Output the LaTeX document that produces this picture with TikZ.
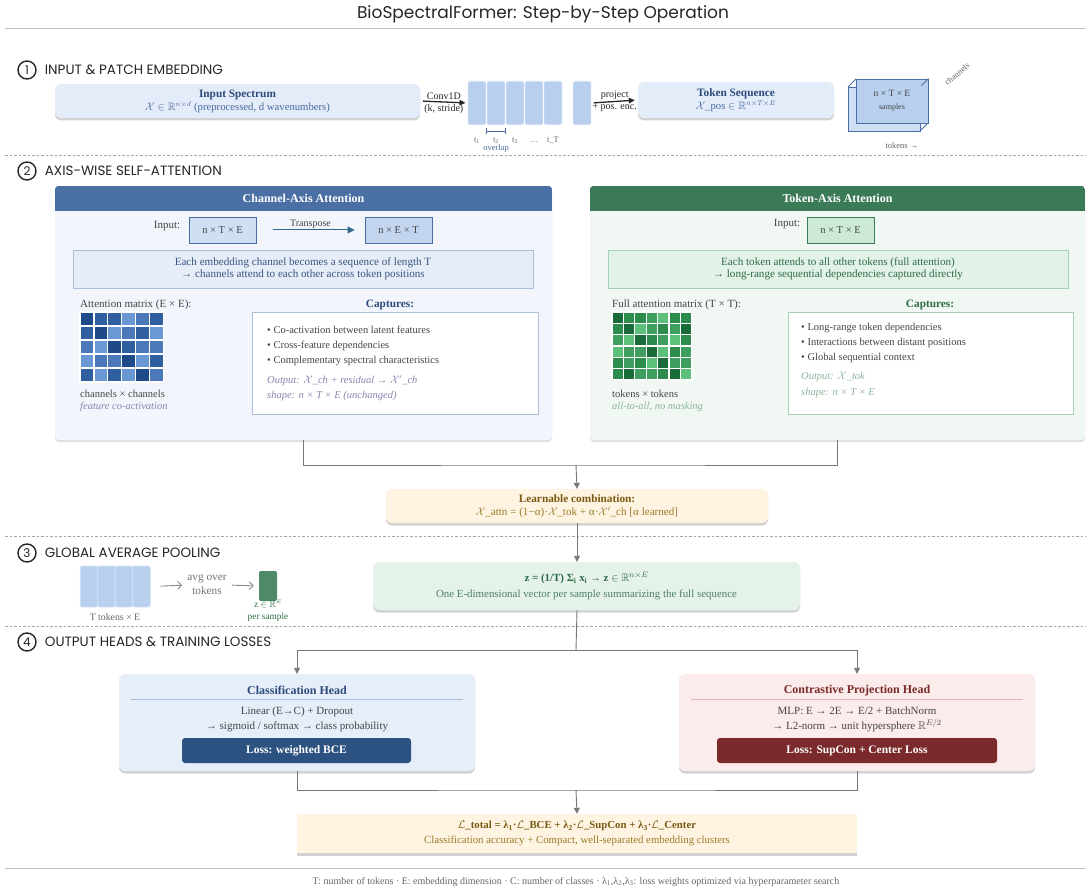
\documentclass[tikz,border=0pt]{standalone}
\usepackage{fontspec}
\usepackage{amssymb}
\setmainfont{Liberation Serif}
\newfontfamily\titrefont{Poppins}
\usetikzlibrary{positioning,shadows,arrows.meta}

\definecolor{gristexte}{HTML}{444444}
\definecolor{grislien}{HTML}{777777}
\definecolor{bleuTete}{HTML}{4A6FA5}
\definecolor{bleuFond}{HTML}{F2F6FC}
\definecolor{bleuPale}{HTML}{E3ECF8}
\definecolor{bleuTok}{HTML}{B8D0EE}
\definecolor{bleuTexte}{HTML}{2C4A7A}
\definecolor{bleuMoyen}{HTML}{4A6AA0}
\definecolor{bleuBord}{HTML}{A9BFDC}
\definecolor{bleuInfo}{HTML}{E6EDF8}
\definecolor{bleuTens}{HTML}{CFE0F5}
\definecolor{bleuTens2}{HTML}{C3D5EE}
\definecolor{bleuItal}{HTML}{8585B0}
\definecolor{vertTete}{HTML}{3B7A57}
\definecolor{vertFond}{HTML}{F1F8F3}
\definecolor{vertTens}{HTML}{CDE9D7}
\definecolor{vertInfo}{HTML}{E3F2E8}
\definecolor{vertBord}{HTML}{A3D3B3}
\definecolor{vertTexte}{HTML}{2E6B45}
\definecolor{vertItal}{HTML}{8CB598}
\definecolor{vertZ}{HTML}{E4F2EA}
\definecolor{vertVec}{HTML}{4E8A65}
\definecolor{creme}{HTML}{FEF4E1}
\definecolor{brun}{HTML}{7A5A12}
\definecolor{brunClair}{HTML}{9A7A2A}
\definecolor{clsFond}{HTML}{E6EEF9}
\definecolor{clsPerte}{HTML}{2C5282}
\definecolor{conFond}{HTML}{FBEBEA}
\definecolor{conTexte}{HTML}{7A2A2A}
\definecolor{conBord}{HTML}{E0B8B8}
\definecolor{chA}{HTML}{1F4A8A}
\definecolor{chB}{HTML}{2F5F9E}
\definecolor{chC}{HTML}{4A78B8}
\definecolor{chD}{HTML}{6A98D4}
\definecolor{tkA}{HTML}{1A6B3A}
\definecolor{tkB}{HTML}{2E8B4E}
\definecolor{tkC}{HTML}{3F9E5F}
\definecolor{tkD}{HTML}{5CBF7A}

\tikzset{
  numero/.style={circle, draw=black!85, line width=1.4pt, minimum size=18pt, inner sep=0pt,
    font=\titrefont\fontsize{12}{12}\selectfont, text=black!85},
  etape/.style={inner sep=0pt, font=\titrefont\fontsize{13.5}{15}\selectfont, text=black!85},
  filet/.style={black!25, line width=0.8pt},
  pointille/.style={black!35, dash pattern=on 2.5pt off 2pt, line width=0.6pt},
  boite/.style={rounded corners=6pt, inner sep=0pt, align=center,
    drop shadow={shadow xshift=0pt, shadow yshift=-2.5pt, opacity=0.35}},
  panneau/.style={rounded corners=4pt, inner sep=0pt,
    drop shadow={shadow xshift=0pt, shadow yshift=-2pt, opacity=0.25}},
  entete/.style={text=white, font=\bfseries\fontsize{12}{14}\selectfont, inner sep=0pt},
  patch/.style={minimum width=18.5pt, minimum height=44pt, fill=bleuTok, draw=white,
    line width=0.6pt, rounded corners=2pt, inner sep=0pt},
  tenseur/.style={minimum width=67pt, minimum height=26pt, inner sep=0pt, line width=0.9pt,
    font=\fontsize{10.5}{12}\selectfont},
  info/.style={inner sep=0pt, align=center, line width=0.8pt},
  capt/.style={fill=white, inner sep=0pt, line width=0.8pt},
  puce/.style={anchor=west, inner sep=0pt, font=\fontsize{10.5}{12}\selectfont, text=gristexte},
  lbl/.style={font=\fontsize{10}{11}\selectfont, text=black!85, inner sep=1.5pt},
  minuscule/.style={font=\fontsize{8.5}{10}\selectfont, text=black!60, inner sep=0pt},
  perte/.style={rounded corners=3pt, inner sep=0pt, text=white, font=\bfseries\fontsize{11.5}{13}\selectfont},
  flecheNoire/.style={-{Triangle[length=6pt,width=5.5pt]}, line width=1.3pt, black!85},
  lien/.style={grislien, line width=0.9pt},
  flecheGrise/.style={lien, -{Triangle[length=6pt,width=6pt]}},
}

\begin{document}
\begin{tikzpicture}[x=1pt, y=-1pt, font=\fontsize{11}{13}\selectfont, text=gristexte]
\useasboundingbox[fill=white] (0,0) rectangle (1086,890);

% titre
\node[font=\titrefont\fontsize{17}{20}\selectfont, text=black!85] (titre) at (543,14)
  {BioSpectralFormer: Step-by-Step Operation};
\draw[filet] (5,28) -- (1086,28);

% etape 1 : spectre et tokens
\node[numero] (num1) at (27,70) {1};
\node[etape, right=8pt of num1] (etape1) {INPUT \& PATCH EMBEDDING};

\node[boite, fill=bleuPale, minimum width=365pt, minimum height=34pt,
  font=\fontsize{10.7}{13}\selectfont, text=bleuMoyen] (inSpec) at (237.5,101)
  {{\bfseries\fontsize{11.3}{13}\selectfont\color{bleuTexte}Input Spectrum}\\
   $\mathcal{X}\in\mathbb{R}^{n\times d}$ (preprocessed, d wavenumbers)};

\foreach \i/\x in {1/477,2/496,3/515,4/534,5/553}
  \node[patch] (p\i) at (\x,103) {};
\node[patch] (pT) at (582,103) {};

\draw[flecheNoire, shorten <=3pt, shorten >=2pt] (inSpec.east) --
  node[above, lbl] {Conv1D} node[below, lbl] {(k, stride)} (p1.west);

\draw[bleuMoyen, line width=1pt, {Bar[width=6pt]}-{Bar[width=6pt]}]
  ([yshift=-6pt]p2.south west) -- ([yshift=-6pt]p2.south east);
\foreach \i/\t in {1/t\textsubscript{1},2/t\textsubscript{2},3/t\textsubscript{3},4/\dots,5/t\_T}
  \path (p\i.south) ++(0,17) node[minuscule, anchor=base] (lbl\i) {\t};
\path (p2.south) ++(0,25) node[minuscule, anchor=base, text=bleuMoyen] (chevau) {overlap};

\node[boite, fill=bleuPale, minimum width=196pt, minimum height=36pt,
  font=\fontsize{10.7}{13}\selectfont, text=bleuMoyen] (tokSeq) at (736,100)
  {{\bfseries\fontsize{11.3}{13}\selectfont\color{bleuTexte}Token Sequence}\\
   $\mathcal{X}$\_pos $\in\mathbb{R}^{n\times T\times E}$};

\draw[flecheNoire, shorten <=2pt, shorten >=3pt] (pT.east) --
  node[above, lbl] {project} node[below, lbl] {+ pos. enc.} (tokSeq.west);

% cube n x T x E
\filldraw[fill=bleuTens, draw=bleuTete, line width=0.9pt] (848,87) rectangle (920,131);
\draw[bleuTete, line width=0.9pt] (856,79) -- (848,87) (928,123) -- (920,131);
\node[fill=bleuTok, draw=bleuTete, line width=0.9pt, minimum width=72pt, minimum height=44pt,
  inner sep=0pt, align=center, font=\fontsize{9.5}{13}\selectfont] (cube) at (892,101)
  {n × T × E\\ {\fontsize{8}{9}\selectfont samples}};
\draw[bleuTete, line width=0.9pt] (cube.north east) -- ++(-7,7);
\node[minuscule, rotate=40] (axeCh) at (957,74) {channels};
\node[minuscule] (axeTok) at (902,146) {tokens →};

\draw[pointille] (5,155) -- (1086,155);

% etape 2 : attention par axe
\node[numero] (num2) at (27,171) {2};
\node[etape, right=8pt of num2] (etape2) {AXIS-WISE SELF-ATTENTION};

% panneau canal
\node[panneau, fill=bleuFond, minimum width=497pt, minimum height=254pt] (chPan) at (303.5,313) {};
\begin{scope}
  \clip[rounded corners=4pt] (chPan.north west) rectangle (chPan.south east);
  \fill[bleuTete] (chPan.north west) rectangle ([yshift=-25pt]chPan.north east);
\end{scope}
\node[entete] (chTete) at ([yshift=-12.5pt]chPan.north) {Channel-Axis Attention};

\node[inner sep=0pt] (chInLbl) at (167,226) {Input:};
\node[tenseur, fill=bleuTens, draw=bleuTete] (chIn) at (222.5,230) {n × T × E};
\node[tenseur, fill=bleuTens2, draw=bleuTete] (chTr) at (398.5,230) {n × E × T};
\draw[-{Triangle[length=7pt,width=7pt]}, line width=1pt, color=bleuTete!70!teal!90!black,
  shorten <=17pt, shorten >=10pt] (chIn) -- node[above=-1pt, lbl, text=gristexte] {Transpose} (chTr);

\node[info, fill=bleuInfo, draw=bleuBord, minimum width=460pt, minimum height=38pt,
  text=bleuMoyen!80!black, font=\fontsize{11.1}{12.5}\selectfont] (chInfo) at (303,269)
  {Each embedding channel becomes a sequence of length T\\
   → channels attend to each other across token positions};

\node[anchor=west, inner sep=0pt] (chMatLbl) at (80,305) {Attention matrix (E × E):};
\foreach \ligne [count=\r from 0] in {{A,B,B,D,C,B},{B,A,D,C,B,D},{C,D,A,B,C,C},
    {D,C,C,A,D,B},{B,D,B,D,A,C}}
  \foreach \c [count=\k from 0] in \ligne
    \filldraw[fill=ch\c, draw=white, line width=1.2pt] (80+\k*13.9,312+\r*14) rectangle ++(13.9,14);
\node[anchor=west, inner sep=0pt, font=\fontsize{10.5}{12}\selectfont] (chMatSous) at (80,394) {channels × channels};
\node[anchor=west, inner sep=0pt, font=\itshape\fontsize{10.5}{12}\selectfont, text=bleuItal] (chMatIt) at (80,407) {feature co-activation};

\node[inner sep=0pt, font=\bfseries\fontsize{11.3}{13}\selectfont, text=bleuTexte] (chCapT) at (390,305) {Captures:};
\node[capt, draw=bleuBord, minimum width=286pt, minimum height=102pt] (chCap) at (395,363) {};
\node[puce] (chB1) at (267,330) {• Co-activation between latent features};
\node[puce] (chB2) at (267,345.5) {• Cross-feature dependencies};
\node[puce] (chB3) at (267,361) {• Complementary spectral characteristics};
\node[puce, font=\itshape\fontsize{10.5}{12}\selectfont, text=bleuItal] (chOut) at (267,381)
  {Output: $\mathcal{X}$\_ch + residual → $\mathcal{X}'$\_ch};
\node[puce, font=\itshape\fontsize{10.5}{12}\selectfont, text=bleuItal] (chShape) at (267,396)
  {shape: n × T × E (unchanged)};

% panneau token
\node[panneau, fill=vertFond, minimum width=495pt, minimum height=254pt] (tkPan) at (837.5,313) {};
\begin{scope}
  \clip[rounded corners=4pt] (tkPan.north west) rectangle (tkPan.south east);
  \fill[vertTete] (tkPan.north west) rectangle ([yshift=-25pt]tkPan.north east);
\end{scope}
\node[entete] (tkTete) at ([yshift=-12.5pt]tkPan.north) {Token-Axis Attention};

\node[inner sep=0pt] (tkInLbl) at (787,224) {Input:};
\node[tenseur, fill=vertTens, draw=vertTete, text depth=-4pt] (tkIn) at (840.5,230) {n × T × E};

\node[info, fill=vertInfo, draw=vertBord, minimum width=460pt, minimum height=38pt,
  text=vertTexte, font=\fontsize{11.1}{12.5}\selectfont] (tkInfo) at (838,269)
  {Each token attends to all other tokens (full attention)\\
   → long-range sequential dependencies captured directly};

\node[anchor=west, inner sep=0pt] (tkMatLbl) at (612,305) {Full attention matrix (T × T):};
\foreach \ligne [count=\r from 0] in {{A,B,B,C,D,B,B},{B,A,D,C,B,C,A},{C,D,A,B,C,D,B},
    {D,C,C,A,D,B,C},{B,C,B,D,A,C,C},{B,A,C,C,B,A,D}}
  \foreach \c [count=\k from 0] in \ligne
    \filldraw[fill=tk\c, draw=white, line width=1.2pt] (612+\k*11.4,312+\r*11.3) rectangle ++(11.4,11.3);
\node[anchor=west, inner sep=0pt, font=\fontsize{10.5}{12}\selectfont] (tkMatSous) at (612,394) {tokens × tokens};
\node[anchor=west, inner sep=0pt, font=\itshape\fontsize{10.5}{12}\selectfont, text=vertItal] (tkMatIt) at (612,407) {all-to-all, no masking};

\node[inner sep=0pt, font=\bfseries\fontsize{11.3}{13}\selectfont, text=vertTexte] (tkCapT) at (930,305) {Captures:};
\node[capt, draw=vertBord, minimum width=285pt, minimum height=102pt] (tkCap) at (930.5,363) {};
\node[puce] (tkB1) at (801,328) {• Long-range token dependencies};
\node[puce] (tkB2) at (801,343) {• Interactions between distant positions};
\node[puce] (tkB3) at (801,358) {• Global sequential context};
\node[puce, font=\itshape\fontsize{10.5}{12}\selectfont, text=vertItal] (tkOut) at (801,377)
  {Output: $\mathcal{X}$\_tok};
\node[puce, font=\itshape\fontsize{10.5}{12}\selectfont, text=vertItal] (tkShape) at (801,393)
  {shape: n × T × E};

% combinaison
\coordinate (jonction) at (576,465);
\draw[lien] (chPan.south) |- (jonction) -| (tkPan.south);
\node[boite, fill=creme, minimum width=382pt, minimum height=34pt, text=brunClair,
  font=\fontsize{11.1}{13}\selectfont] (combo) at (577,506)
  {{\bfseries\fontsize{11.3}{13}\selectfont\color{brun}Learnable combination:}\\
   $\mathcal{X}$\_attn = (1−α)·$\mathcal{X}$\_tok + α·$\mathcal{X}'$\_ch [α learned]};
\draw[flecheGrise] (jonction) -- (combo.north);

\draw[pointille] (5,536) -- (1086,536);

% etape 3 : pooling
\node[numero] (num3) at (27,553) {3};
\node[etape, right=8pt of num3] (etape3) {GLOBAL AVERAGE POOLING};

\foreach \i/\x in {1/89,2/106.5,3/124,4/141.5}
  \node[patch, minimum width=17.5pt, minimum height=41pt, draw=bleuTok!60!white, line width=0.8pt] (q\i) at (\x,586.5) {};
\node[minuscule, font=\fontsize{9.8}{11}\selectfont] (qLbl) at (115,617) {T tokens × E};
\node[align=center, inner sep=0pt, text=black!55, font=\fontsize{11.3}{14}\selectfont] (moy) at (207,585) {avg over\\tokens};
\node[fill=vertVec, rounded corners=2pt, minimum width=18pt, minimum height=30pt, inner sep=0pt] (zVec) at (268,586) {};
\draw[lien, black!45, -{Straight Barb[length=4pt]}, shorten <=10pt, shorten >=5pt] (q4.east) -- (moy.west);
\draw[lien, black!45, -{Straight Barb[length=4pt]}, shorten <=5pt, shorten >=5pt] (moy.east) -- (zVec.west);
\node[align=center, inner sep=0pt, text=vertTexte, font=\fontsize{9.3}{12}\selectfont] (zLbl) at (268,611)
  {z $\in\mathbb{R}^{\scriptscriptstyle E}$\\per sample};

\node[boite, fill=vertZ, minimum width=427pt, minimum height=48pt, text=vertTexte!85!white,
  font=\fontsize{10.9}{16}\selectfont] (zBox) at (586.5,586)
  {{\bfseries\color{vertTexte}z = (1/T) Σ\textsubscript{i} x\textsubscript{i} → z $\in\mathbb{R}^{n\times E}$}\\
   One E-dimensional vector per sample summarizing the full sequence};
\draw[flecheGrise] (combo.south) -- (combo.south |- zBox.north);

\draw[pointille] (5,626) -- (1086,626);

% etape 4 : tetes et pertes
\node[numero] (num4) at (27,642) {4};
\node[etape, right=8pt of num4] (etape4) {OUTPUT HEADS \& TRAINING LOSSES};

\node[boite, fill=clsFond, minimum width=356pt, minimum height=97pt] (clsHead) at (297,722.5) {};
\node[boite, fill=conFond, minimum width=356pt, minimum height=97pt] (conHead) at (857,722.5) {};

\coordinate (fourche) at (576,650);
\draw[lien] (combo.south |- zBox.south) -- (fourche);
\draw[flecheGrise] (fourche) -| (clsHead.north);
\draw[flecheGrise] (fourche) -| (conHead.north);

\node[inner sep=0pt, font=\bfseries\fontsize{12}{14}\selectfont, text=bleuTexte] (clsTitre) at ([yshift=-17pt]clsHead.north) {Classification Head};
\draw[bleuBord, line width=0.7pt] ([xshift=12pt,yshift=-25.5pt]clsHead.north west) -- ([xshift=-12pt,yshift=-25.5pt]clsHead.north east);
\node[align=center, inner sep=0pt, font=\fontsize{11}{15}\selectfont] (clsTxt) at (297,719.5)
  {Linear (E→C) + Dropout\\ → sigmoid / softmax → class probability};
\node[perte, fill=clsPerte, minimum width=229pt, minimum height=25pt] (clsPerte) at (296.5,750.5) {Loss: weighted BCE};

\node[inner sep=0pt, font=\bfseries\fontsize{12}{14}\selectfont, text=conTexte] (conTitre) at ([yshift=-17pt]conHead.north) {Contrastive Projection Head};
\draw[conBord, line width=0.7pt] ([xshift=12pt,yshift=-25.5pt]conHead.north west) -- ([xshift=-12pt,yshift=-25.5pt]conHead.north east);
\node[align=center, inner sep=0pt, font=\fontsize{11}{15}\selectfont] (conTxt) at (857,719.5)
  {MLP: E → 2E → E/2 + BatchNorm\\ → L2-norm → unit hypersphere $\mathbb{R}^{E/2}$};
\node[perte, fill=conTexte, minimum width=280pt, minimum height=25pt] (conPerte) at (857,750.5) {Loss: SupCon + Center Loss};

% perte totale
\coordinate (reunion) at (576,790);
\draw[lien] (clsHead.south) |- (reunion) -| (conHead.south);
\node[boite, rounded corners=0pt, fill=creme, minimum width=560pt, minimum height=39pt, text=brunClair,
  font=\fontsize{10.8}{15.5}\selectfont] (total) at (577,833.5)
  {{\bfseries\color{brun}$\mathcal{L}$\_total = λ\textsubscript{1}·$\mathcal{L}$\_BCE + λ\textsubscript{2}·$\mathcal{L}$\_SupCon + λ\textsubscript{3}·$\mathcal{L}$\_Center}\\
   Classification accuracy + Compact, well-separated embedding clusters};
\draw[flecheGrise] (reunion) -- (total.north);

\draw[filet] (5,868) -- (1086,868);
\node[font=\fontsize{10}{11}\selectfont, text=black!60] (note) at (576,882)
  {T: number of tokens · E: embedding dimension · C: number of classes · λ\textsubscript{1},λ\textsubscript{2},λ\textsubscript{3}: loss weights optimized via hyperparameter search};
\end{tikzpicture}
\end{document}
